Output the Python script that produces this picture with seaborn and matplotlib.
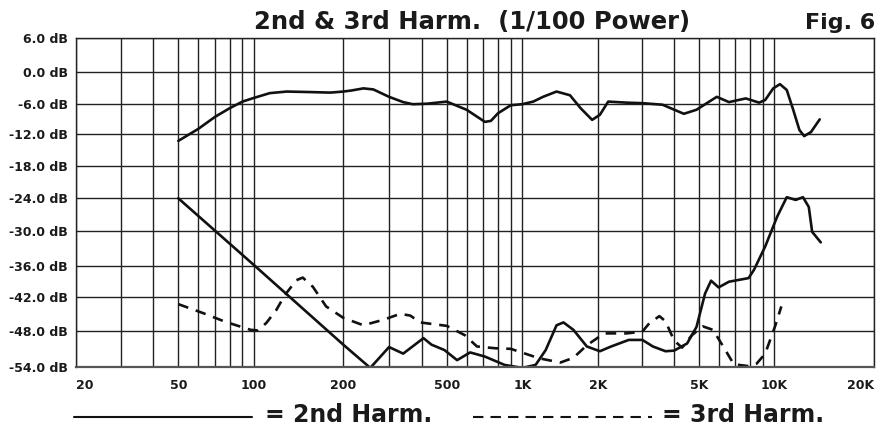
import numpy as np
import pandas as pd
import matplotlib
matplotlib.use("Agg")
import matplotlib.pyplot as plt
import seaborn as sns
from matplotlib.lines import Line2D

# ---------------- data ----------------
fund_freq = [50, 60, 70, 80, 90, 100, 113, 129, 155, 181, 200, 215, 239, 261,
             300, 340, 370, 420, 500, 600, 710, 750, 800, 900, 1000, 1106, 1210,
             1370, 1550, 1710, 1900, 2040, 2200, 2600, 3000, 3600, 4370, 4900,
             5900, 6600, 7700, 8700, 9200, 9900, 10400, 10900, 11400, 11900,
             12300, 12900, 13700]
fund_db = [-13.3, -11.0, -8.6, -6.9, -5.6, -4.9, -4.0, -3.7, -3.8, -3.9, -3.7,
           -3.5, -3.1, -3.3, -4.7, -5.7, -6.1, -6.0, -5.6, -7.2, -9.6, -9.4,
           -7.9, -6.3, -6.1, -5.6, -4.7, -3.7, -4.4, -6.9, -9.2, -8.2, -5.6,
           -5.8, -5.9, -6.2, -8.0, -7.2, -4.7, -5.7, -5.0, -5.8, -5.3, -3.1,
           -2.3, -3.4, -7.2, -11.2, -12.4, -11.6, -9.1]

h2_freq = [50, 100, 200, 254, 300, 340, 407, 437, 490, 550, 620, 710, 850, 1000,
           1130, 1240, 1370, 1460, 1600, 1810, 2040, 2260, 2650, 3000, 3300,
           3700, 4000, 4500, 4900, 5300, 5600, 6000, 6600, 7900, 8300, 9200,
           10200, 10900, 11600, 12200, 12700, 13000, 13800]
h2_db = [-24.0, -35.9, -50.3, -54.2, -50.7, -51.8, -49.2, -50.3, -51.2, -52.9,
         -51.6, -52.3, -53.7, -54.2, -53.7, -51.2, -47.0, -46.5, -47.8, -50.6,
         -51.4, -50.6, -49.5, -49.5, -50.6, -51.4, -51.3, -50.1, -47.3, -41.4,
         -38.9, -40.2, -39.1, -38.4, -36.8, -32.7, -27.4, -23.8, -24.3, -23.8,
         -25.6, -30.2, -32.0]

h3_freq = [50, 63, 77, 97, 103, 110, 119, 127, 139, 146, 158, 175, 200, 239,
           287, 331, 362, 395, 500, 590, 660, 780, 900, 1170, 1420, 1600, 1810,
           2120, 2600, 3000, 3200, 3500, 3700, 4000, 4300, 4700, 5200, 5700,
           6300, 6900, 7900, 8500, 9200, 10050, 10500]
h3_db = [-43.3, -44.9, -46.4, -47.8, -47.9, -46.6, -44.3, -41.7, -38.8, -38.3,
         -40.1, -43.7, -45.7, -47.0, -46.0, -45.0, -45.3, -46.5, -47.1, -48.7,
         -50.6, -50.9, -51.0, -52.6, -53.3, -52.5, -50.4, -48.4, -48.4, -48.1,
         -46.6, -45.4, -46.3, -49.6, -50.8, -48.7, -47.2, -47.8, -50.8, -53.6,
         -53.9, -53.5, -51.8, -47.2, -43.7]

x_ticks = [20, 50, 100, 200, 500, 1000, 2000, 5000, 10000, 20000]
x_tick_labels = ["20", "50", "100", "200", "500", "1K", "2K", "5K", "10K", "20K"]
x_minor = [30, 40, 60, 70, 80, 90, 300, 400, 600, 700, 800, 900,
           3000, 4000, 6000, 7000, 8000, 9000]
y_ticks = [-54, -48, -42, -36, -30, -24, -18, -12, -6, 0, 6]
y_tick_labels = [f"{v:.1f} dB" for v in y_ticks]

title = "2nd & 3rd Harm.  (1/100 Power)"
fig_label = "Fig. 6"
legend_2nd = "= 2nd Harm."
legend_3rd = "= 3rd Harm."

# ---------------- printed chart grid geometry (non-uniform) ----------------
W, H = 885, 429
x_grid_px = [76, 178.3, 254, 343.3, 446.7, 522.3, 597.7, 698.7, 774.3, 874.3]
y_grid_px = [366.7, 331, 296.7, 265.7, 230.7, 198.3, 165.7, 134, 103.7, 72, 38]


def interp_ext(xp, fp):
    xp = np.asarray(xp, float)
    fp = np.asarray(fp, float)

    def f(x):
        x = np.asarray(x, float)
        y = np.interp(x, xp, fp)
        lo_s = (fp[1] - fp[0]) / (xp[1] - xp[0])
        hi_s = (fp[-1] - fp[-2]) / (xp[-1] - xp[-2])
        y = np.where(x < xp[0], fp[0] + (x - xp[0]) * lo_s, y)
        y = np.where(x > xp[-1], fp[-1] + (x - xp[-1]) * hi_s, y)
        return y
    return f


_lx = np.log10(x_ticks)
_xf = interp_ext(_lx, x_grid_px)
_xi = interp_ext(x_grid_px, _lx)


def x_fwd(v):
    return _xf(np.log10(np.clip(np.asarray(v, float), 1e-6, None)))


def x_inv(p):
    return 10.0 ** _xi(p)


_ypx = -np.asarray(y_grid_px)
y_fwd = interp_ext(y_ticks, _ypx)
y_inv = interp_ext(_ypx, y_ticks)

# ---------------- figure ----------------
sns.set_style("white")
plt.rcParams["font.family"] = ["DejaVu Sans"]
plt.rcParams["font.weight"] = "bold"

fig = plt.figure(figsize=(W / 100, H / 100), dpi=100)
ax = fig.add_axes([x_grid_px[0] / W, 1 - y_grid_px[0] / H,
                   (x_grid_px[-1] - x_grid_px[0]) / W,
                   (y_grid_px[0] - y_grid_px[-1]) / H])

df = pd.concat([
    pd.DataFrame({"freq": fund_freq, "db": fund_db, "series": "Fundamental"}),
    pd.DataFrame({"freq": h2_freq, "db": h2_db, "series": "2nd Harm."}),
    pd.DataFrame({"freq": h3_freq, "db": h3_db, "series": "3rd Harm."}),
], ignore_index=True)

ax.set_xscale("function", functions=(x_fwd, x_inv))
ax.set_yscale("function", functions=(y_fwd, y_inv))

sns.lineplot(data=df, x="freq", y="db", hue="series", style="series",
             palette={"Fundamental": "#111111", "2nd Harm.": "#111111",
                      "3rd Harm.": "#111111"},
             dashes={"Fundamental": "", "2nd Harm.": "", "3rd Harm.": (4, 3)},
             estimator=None, legend=False, linewidth=1.9, ax=ax,
             solid_joinstyle="round", dash_capstyle="butt")

ax.set_xlim(20, 20000)
ax.set_ylim(-54, 6)
ax.set_xticks(x_ticks, x_tick_labels)
ax.set_xticks(x_minor, minor=True)
ax.set_yticks(y_ticks, y_tick_labels)
ax.set_xlabel("")
ax.set_ylabel("")

ax.grid(which="major", axis="both", color="#222222", linewidth=1.0)
ax.grid(which="minor", axis="x", color="#222222", linewidth=1.0)
ax.set_axisbelow(True)
for s in ax.spines.values():
    s.set_color("#222222")
    s.set_linewidth(1.0)
ax.spines["bottom"].set_linewidth(1.6)
ax.spines["bottom"].set_color("#555555")

ax.tick_params(axis="both", which="both", length=0)
ax.tick_params(axis="x", pad=9, labelsize=9, labelcolor="#1a1a1a")
ax.tick_params(axis="y", pad=6, labelsize=9, labelcolor="#1a1a1a")
for t in ax.get_xticklabels() + ax.get_yticklabels():
    t.set_fontweight("bold")
xl = ax.get_xticklabels()
xl[0].set_horizontalalignment("left")
xl[-1].set_horizontalalignment("right")

# title texts
fig.text(472.5 / W, 1 - 29.3 / H, title, ha="center", va="baseline",
         fontsize=17.5, fontweight="bold", color="#1a1a1a")
fig.text(875 / W, 1 - 29.3 / H, fig_label, ha="right", va="baseline",
         fontsize=16, fontweight="bold", color="#1a1a1a")

# legend
ly = 1 - 416.5 / H
base = 1 - 422.5 / H
fig.add_artist(Line2D([74 / W, 252 / W], [ly, ly], transform=fig.transFigure,
                      color="#111111", linewidth=1.5))
fig.text(265 / W, base, legend_2nd, ha="left", va="baseline",
         fontsize=17, fontweight="bold", color="#1a1a1a")
fig.add_artist(Line2D([473 / W, 652 / W], [ly, ly], transform=fig.transFigure,
                      color="#111111", linewidth=1.5,
                      linestyle=(0, (5, 3.4)), dash_capstyle="butt"))
fig.text(662 / W, base, legend_3rd, ha="left", va="baseline",
         fontsize=17, fontweight="bold", color="#1a1a1a")

fig.savefig("out.png", dpi=100)
